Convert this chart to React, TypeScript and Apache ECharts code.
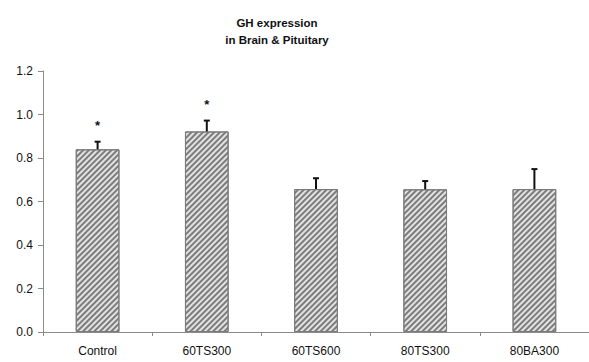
import React, { useEffect, useRef } from "react";
import * as echarts from "echarts";

const categories = ["Control", "60TS300", "60TS600", "80TS300", "80BA300"];
const means = [0.84, 0.922, 0.657, 0.656, 0.657];
const errors = [0.035, 0.05, 0.05, 0.038, 0.092];
const stars = ["*", "*", "", "", ""];
const yTicks = [0, 0.2, 0.4, 0.6, 0.8, 1.0, 1.2];

const FONT = "Liberation Sans, Arial, sans-serif";

export default function App() {
  const ref = useRef<HTMLDivElement>(null);
  useEffect(() => {
    if (!ref.current) return;
    const chart = echarts.init(ref.current, null, { renderer: "svg" });
    const errData = categories.map((_, i) => [i, means[i], means[i] + errors[i], stars[i]]);
    chart.setOption({
      animation: false,
      aria: { enabled: false, decal: { show: false } },
      title: {
        text: "GH expression\nin Brain & Pituitary",
        left: 272,
        top: 9,
        textAlign: "center",
        textStyle: {
          fontFamily: FONT,
          fontSize: 11.5,
          fontWeight: "bold",
          color: "#111",
          lineHeight: 17,
        },
      },
      grid: { left: 43, top: 71, width: 557, height: 261, containLabel: false },
      xAxis: {
        type: "category",
        data: categories,
        axisLine: { lineStyle: { color: "#8a8a8a", width: 1 } },
        axisTick: { show: true, length: 4, lineStyle: { color: "#8a8a8a" } },
        axisLabel: {
          margin: 13,
          fontFamily: FONT,
          fontSize: 12,
          color: "#111",
        },
      },
      yAxis: {
        type: "value",
        min: yTicks[0],
        max: yTicks[yTicks.length - 1],
        interval: 0.2,
        splitLine: { show: false },
        axisLine: { show: true, lineStyle: { color: "#8a8a8a", width: 1 } },
        axisTick: { show: true, length: 5, lineStyle: { color: "#8a8a8a" } },
        axisLabel: {
          margin: 10,
          formatter: (v: number) => v.toFixed(1),
          fontFamily: FONT,
          fontSize: 12,
          color: "#111",
        },
      },
      series: [
        {
          type: "bar",
          data: means,
          barWidth: "40%",
          itemStyle: {
            color: "#e2e2e2",
            borderColor: "#7a7a7a",
            borderWidth: 1,
            decal: {
              symbol: "rect",
              symbolSize: 1,
              color: "#7c7c7c",
              backgroundColor: "#e2e2e2",
              dashArrayX: [1, 0],
              dashArrayY: [1.1, 1.5],
              rotation: -Math.PI / 4,
            },
          },
        },
        {
          type: "custom",
          data: errData,
          z: 10,
          renderItem: (params: any, api: any) => {
            const x = api.value(0);
            const lo = api.coord([x, api.value(1)]);
            const hi = api.coord([x, api.value(2)]);
            const star = api.value(3);
            const children: any[] = [
              {
                type: "line",
                shape: { x1: lo[0], y1: lo[1], x2: hi[0], y2: hi[1] },
                style: { stroke: "#111", lineWidth: 2 },
              },
              {
                type: "line",
                shape: { x1: hi[0] - 3, y1: hi[1], x2: hi[0] + 3, y2: hi[1] },
                style: { stroke: "#111", lineWidth: 2 },
              },
            ];
            if (star) {
              children.push({
                type: "text",
                x: hi[0],
                y: hi[1] - 16,
                style: {
                  text: star,
                  fontFamily: FONT,
                  fontSize: 13,
                  fontWeight: "bold",
                  fill: "#111",
                  align: "center",
                  verticalAlign: "middle",
                },
              });
            }
            return { type: "group", children };
          },
        },
      ],
    });
    return () => chart.dispose();
  }, []);
  return (
    <div
      ref={ref}
      style={{ position: "fixed", left: 0, top: 0, width: 589, height: 362, background: "#fff" }}
    />
  );
}
